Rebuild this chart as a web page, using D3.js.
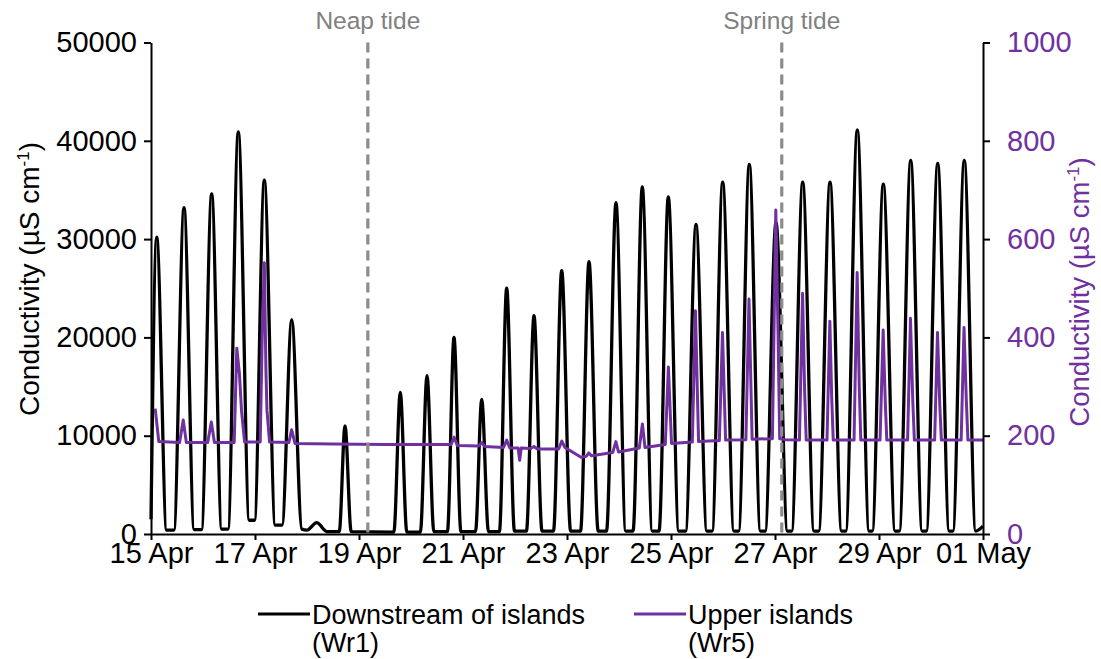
<!DOCTYPE html>
<html><head><meta charset="utf-8">
<script src="https://cdn.jsdelivr.net/npm/d3@7"></script>
<style>
body{margin:0;background:#fff}
text{font-family:Arial,"Liberation Sans",sans-serif}
</style>
</head><body>
<svg id="c" width="1101" height="659"></svg>
<script>
// ---- data (days since 15 Apr 00:00) ----
const xTickDays = [0, 2, 4, 6, 8, 10, 12, 14, 16];
const xTickLabels = ["15 Apr","17 Apr","19 Apr","21 Apr","23 Apr","25 Apr","27 Apr","29 Apr","01 May"];
const leftTicks = [0, 10000, 20000, 30000, 40000, 50000];
const rightTicks = [0, 200, 400, 600, 800, 1000];

// Downstream of islands (Wr1), µS/cm
const wr1 = [
 [0.00,1500],[0.11,30200],[0.30,400],
 [0.44,400],[0.635,33200],[0.83,450],
 [0.97,450],[1.167,34600],[1.36,500],
 [1.48,500],[1.679,40900],[1.89,1400],
 [1.99,1400],[2.179,36000],[2.39,900],
 [2.52,900],[2.706,21800],[2.90,500],
 [3.00,400],[3.187,1150],[3.38,250],
 [3.62,250],[3.731,11000],[3.85,250],
 [4.67,200],[4.794,14400],[4.92,200],
 [5.18,200],[5.308,16100],[5.44,250],
 [5.70,250],[5.827,20000],[5.96,250],
 [6.24,250],[6.36,13700],[6.49,250],
 [6.70,250],[6.84,25000],[6.99,300],
 [7.22,300],[7.365,22200],[7.52,300],
 [7.74,300],[7.898,26800],[8.07,300],
 [8.26,300],[8.423,27700],[8.60,300],
 [8.76,300],[8.942,33700],[9.13,300],
 [9.27,300],[9.448,35300],[9.64,300],
 [9.77,300],[9.948,34300],[10.15,300],
 [10.28,300],[10.481,31500],[10.69,300],
 [10.79,300],[10.994,35800],[11.21,300],
 [11.30,300],[11.506,37600],[11.72,300],
 [11.81,300],[12.019,31700],[12.24,300],
 [12.32,300],[12.533,35800],[12.75,300],
 [12.84,300],[13.058,35800],[13.28,300],
 [13.36,300],[13.583,41100],[13.81,300],
 [13.87,300],[14.083,35600],[14.31,300],
 [14.39,300],[14.61,38000],[14.83,300],
 [14.91,300],[15.129,37700],[15.35,300],
 [15.42,300],[15.64,38000],[15.86,300],
 [16.00,800]
];

// Upper islands (Wr5), µS/cm
const wr5 = [
 [0.08,255],[0.15,188],[0.55,186],[0.62,232],[0.68,186],
 [1.09,186],[1.16,228],[1.22,186],[1.60,186],[1.65,378],[1.70,327],[1.74,252],[1.80,187],
 [2.10,187],[2.14,409],[2.18,552],[2.21,334],[2.23,252],[2.28,187],
 [2.65,186],[2.705,212],[2.77,184],[3.50,183],[4.50,182],[5.50,182],
 [5.77,182],[5.83,197],[5.89,180],[6.30,179],[6.36,186],[6.42,178],
 [6.78,176],[6.84,191],[6.90,175],[7.06,175],[7.09,150],[7.12,175],
 [7.30,174],[7.365,178],[7.43,173],[7.84,173],[7.90,189],[7.96,176],
 [8.27,156],[8.37,158],[8.42,165],[8.47,159],[8.88,166],[8.94,188],[8.99,167],
 [9.39,175],[9.45,224],[9.50,176],[9.89,182],[9.95,340],[10.01,184],
 [10.41,187],[10.47,454],[10.53,188],[10.93,190],[10.99,410],[11.05,191],
 [11.44,192],[11.50,478],[11.56,193],[11.95,194],[12.015,659],[12.06,400],[12.09,194],
 [12.20,192],[12.47,191],[12.53,490],[12.57,290],[12.60,191],
 [13.00,191],[13.055,433],[13.09,280],[13.12,191],
 [13.52,191],[13.58,532],[13.62,300],[13.65,191],
 [14.02,191],[14.08,415],[14.12,270],[14.15,191],
 [14.55,191],[14.605,439],[14.65,270],[14.68,191],
 [15.07,191],[15.125,410],[15.17,260],[15.20,191],
 [15.58,191],[15.635,420],[15.68,270],[15.71,191],[16.00,191]
];

const eventDays = [4.17, 12.13];
const eventLabels = ["Neap tide", "Spring tide"];
const seriesNames = [["Downstream of islands","(Wr1)"],["Upper islands","(Wr5)"]];

// ---- layout ----
const L = 151, R = 983, T = 42.5, B = 534;
const purple = "#7030A0";
const svg = d3.select("#c");

const x = d3.scaleLinear().domain([0,16]).range([L,R]);
const yL = d3.scaleLinear().domain([0,50000]).range([B,T]);
const yR = d3.scaleLinear().domain([0,1000]).range([B,T]);

// lines
const lineL = d3.line().x(d=>x(d[0])).y(d=>yL(d[1])).curve(d3.curveMonotoneX);
const lineR = d3.line().x(d=>x(d[0])).y(d=>yR(d[1]));

svg.append("path").datum(wr1).attr("d",lineL)
  .attr("fill","none").attr("stroke","#000").attr("stroke-width",3.3).attr("stroke-linejoin","round");
svg.append("path").datum(wr5).attr("d",lineR)
  .attr("fill","none").attr("stroke",purple).attr("stroke-width",3).attr("stroke-linejoin","round");

// event lines
eventDays.forEach((d,i)=>{
  svg.append("line").attr("x1",x(d)).attr("x2",x(d)).attr("y1",T).attr("y2",B+4)
    .attr("stroke","#8c8c8c").attr("stroke-width",3.2).attr("stroke-dasharray","10,6");
  svg.append("text").attr("x",x(d)).attr("y",29).attr("text-anchor","middle")
    .attr("font-size",24.5).attr("fill","#808080").text(eventLabels[i]);
});

// axes
const fs = 29;
const ax = svg.append("g").attr("transform",`translate(0,${B})`)
  .call(d3.axisBottom(x).tickValues(xTickDays).tickFormat((d,i)=>xTickLabels[i]).tickSize(6).tickSizeOuter(0));
const al = svg.append("g").attr("transform",`translate(${L},0)`)
  .call(d3.axisLeft(yL).tickValues(leftTicks).tickFormat(d3.format("d")).tickSize(7).tickSizeOuter(0));
const ar = svg.append("g").attr("transform",`translate(${R},0)`)
  .call(d3.axisRight(yR).tickValues(rightTicks).tickFormat(d3.format("d")).tickSize(7).tickSizeOuter(0));
[ax,al,ar].forEach(g=>{
  g.select(".domain").attr("stroke","#000").attr("stroke-width",2);
  g.selectAll(".tick line").attr("stroke","#000").attr("stroke-width",2);
  g.selectAll(".tick text").attr("font-size",fs).attr("font-family","Arial, 'Liberation Sans', sans-serif").attr("fill","#000");
});
ax.selectAll(".tick text").attr("y",8).attr("dy","0.72em");
al.selectAll(".tick text").attr("x",-14);
ar.selectAll(".tick text").attr("x",24).attr("fill",purple);

// axis titles
const tl = svg.append("text").attr("transform","translate(39,279) rotate(-90)")
  .attr("text-anchor","middle").attr("font-size",28).attr("fill","#000");
tl.append("tspan").text("Conductivity (µS cm");
tl.append("tspan").attr("font-size",17).attr("dy",-10).text("-1");
tl.append("tspan").attr("dy",10).text(")");

const tr = svg.append("text").attr("transform","translate(1089,292) rotate(-90)")
  .attr("text-anchor","middle").attr("font-size",27.5).attr("fill",purple);
tr.append("tspan").text("Conductivity (µS cm");
tr.append("tspan").attr("font-size",17).attr("dy",-10).text("-1");
tr.append("tspan").attr("dy",10).text(")");

// legend
const legX = [258, 634];
const legCol = ["#000", purple];
seriesNames.forEach((nm,i)=>{
  svg.append("line").attr("x1",legX[i]).attr("x2",legX[i]+52).attr("y1",614).attr("y2",614)
    .attr("stroke",legCol[i]).attr("stroke-width",3.2);
  const t = svg.append("text").attr("x",legX[i]+54).attr("y",624).attr("font-size",27).attr("fill","#000");
  t.append("tspan").attr("x",legX[i]+54).text(nm[0]);
  t.append("tspan").attr("x",legX[i]+54).attr("dy",28).text(nm[1]);
});
</script>
</body></html>
